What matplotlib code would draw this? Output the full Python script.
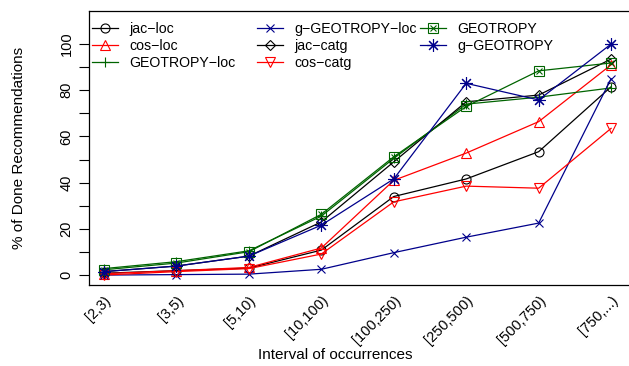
import numpy as np
import matplotlib
matplotlib.use("Agg")
import matplotlib.pyplot as plt
from matplotlib.legend_handler import HandlerTuple

plt.rcParams["font.family"] = ["Liberation Sans", "DejaVu Sans"]

# Datos
intervalos = ["[2,3)", "[3,5)", "[5,10)", "[10,100)", "[100,250)",
              "[250,500)", "[500,750)", "[750,...)"]

jac_loc = [0.8, 1.9, 3.0, 10.8, 34.0, 41.6, 53.4, 81.5]
cos_loc = [0.6, 1.9, 3.3, 11.7, 41.0, 52.8, 66.4, 91.0]
geotropy_loc = [2.8, 5.8, 10.5, 25.5, 50.5, 74.0, 77.0, 81.0]
g_geotropy_loc = [0.0, 0.2, 0.4, 2.5, 9.7, 16.4, 22.5, 85.0]
jac_catg = [1.5, 3.9, 8.2, 23.0, 49.0, 75.0, 77.9, 93.5]
cos_catg = [0.0, 1.5, 2.8, 9.1, 31.7, 38.5, 37.6, 63.5]
geotropy = [2.3, 5.2, 10.1, 26.3, 51.2, 73.0, 88.4, 91.8]
g_geotropy = [1.5, 3.9, 8.2, 21.6, 41.6, 83.0, 75.8, 100.0]

x = np.arange(len(intervalos))
W, H = 629, 366
fig = plt.figure(figsize=(W / 100, H / 100), dpi=100)
ax = fig.add_axes([89 / W, 1 - 285 / H, (635 - 89) / W, (285 - 11) / H])

series = [
    (jac_loc, "jac\u2212loc", "black", "o", 6.5),
    (cos_loc, "cos\u2212loc", "red", "^", 7),
    (geotropy_loc, "GEOTROPY\u2212loc", "#006400", "+", 7),
    (g_geotropy_loc, "g\u2212GEOTROPY\u2212loc", "#00008B", "x", 6),
    (jac_catg, "jac\u2212catg", "black", "D", 5.5),
    (cos_catg, "cos\u2212catg", "red", "v", 7),
]
handles, labels = [], []
for vals, nombre, color, marker, ms in series:
    (h,) = ax.plot(x, vals, color=color, marker=marker, lw=0.9,
                   ms=ms, mew=0.8, fillstyle="none")
    handles.append(h)
    labels.append(nombre)

# GEOTROPY: cuadrado con cruz (pch 7 de R)
(h1,) = ax.plot(x, geotropy, color="#006400", marker="s", lw=0.9, ms=6.5,
                mew=0.8, fillstyle="none")
(h2,) = ax.plot(x, geotropy, color="#006400", marker="x", lw=0, ms=4.5, mew=0.8)
handles.append((h1, h2))
labels.append("GEOTROPY")

# g-GEOTROPY: asterisco (pch 8 de R)
(h,) = ax.plot(x, g_geotropy, color="#00008B", marker=(8, 2, 0), lw=0.9,
               ms=9, mew=0.8)
handles.append(h)
labels.append("g\u2212GEOTROPY")

# leyenda en 3 columnas de igual ancho (como en R)
col_x = [92, 257, 420]
for i, cx in enumerate(col_x):
    leg = ax.legend(handles[3 * i:3 * i + 3], labels[3 * i:3 * i + 3],
                    frameon=False, loc="upper left",
                    bbox_to_anchor=(cx / W, 1 - 22 / H),
                    bbox_transform=fig.transFigure, fontsize=10.2,
                    handlelength=1.8, handletextpad=0.85, labelspacing=0.2,
                    borderpad=0, borderaxespad=0,
                    handler_map={tuple: HandlerTuple(ndivide=1, pad=0)})
    if i < 2:
        ax.add_artist(leg)

ax.set_xlim(-0.207, 7.33)
ax.set_ylim(-4.3, 114.3)
ax.set_xticks(x)
ax.set_xticklabels(intervalos, rotation=45, ha="right", rotation_mode="anchor",
                   fontsize=10.5)
ax.tick_params(axis="x", length=0, pad=6)
ax.set_yticks(np.arange(0, 101, 10))
ax.set_yticklabels([str(v) if v % 20 == 0 else "" for v in range(0, 101, 10)],
                   rotation=90, va="center", fontsize=10.5)
ax.tick_params(axis="y", length=7, width=0.8, pad=4)
for s in ax.spines.values():
    s.set_linewidth(0.9)

ax.set_xlabel("Interval of occurrences", fontsize=11)
ax.xaxis.set_label_coords((335 - 89) / (635 - 89), -(348 - 285) / (285 - 11))
ax.set_ylabel("% of Done Recommendations", fontsize=11)
ax.yaxis.set_label_coords(-(89 - 26) / (635 - 89), 0.5)

fig.savefig("out.png", dpi=100)
